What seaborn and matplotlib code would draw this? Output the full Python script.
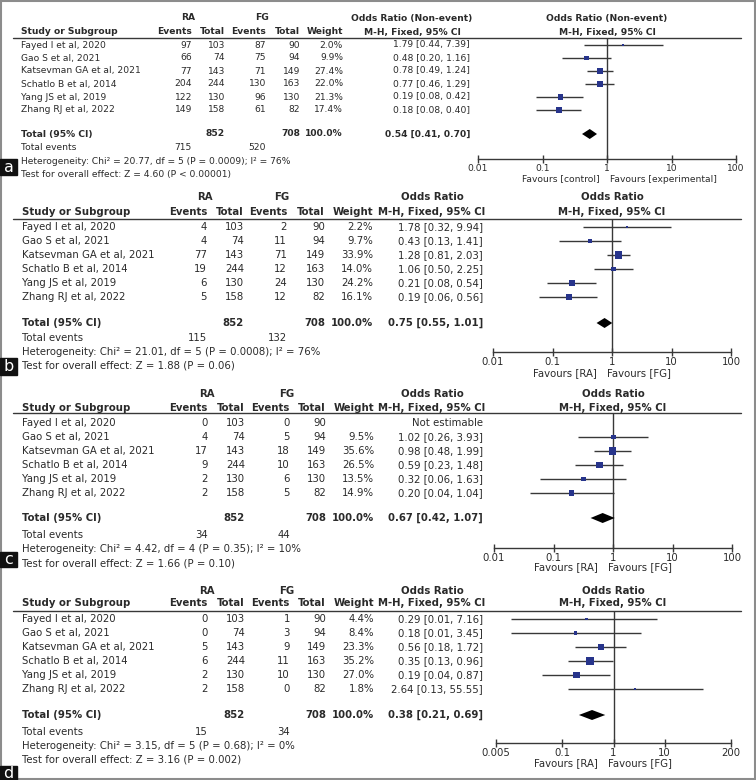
import numpy as np
import pandas as pd
import matplotlib
matplotlib.use('Agg')
import matplotlib.pyplot as plt
import matplotlib.ticker as mticker
from matplotlib.patches import Rectangle
import seaborn as sns

sns.set_theme(style='white')
plt.rcParams['font.family'] = ['DejaVu Sans']

W, H = 756, 780
TXT = '#2a2a2a'
LINE = '#383838'
SQ = '#27348b'

# ── data ───────────────────────────────────────────────────────────────────────
studies = ['Fayed I et al, 2020', 'Gao S et al, 2021', 'Katsevman GA et al, 2021',
           'Schatlo B et al, 2014', 'Yang JS et al, 2019', 'Zhang RJ et al, 2022']
ra_total = [103, 74, 143, 244, 130, 158]
fg_total = [90, 94, 149, 163, 130, 82]

a_ra_events = [97, 66, 77, 204, 122, 149]
a_fg_events = [87, 75, 71, 130, 96, 61]
a_weight = [2.0, 9.9, 27.4, 22.0, 21.3, 17.4]
a_or = [1.79, 0.48, 0.78, 0.77, 0.19, 0.18]
a_lo = [0.44, 0.20, 0.49, 0.46, 0.08, 0.08]
a_hi = [7.39, 1.16, 1.24, 1.29, 0.42, 0.40]
a_pooled = [0.54, 0.41, 0.70]
a_events_sum = [715, 520]
a_het = 'Heterogeneity: Chi² = 20.77, df = 5 (P = 0.0009); I² = 76%'
a_test = 'Test for overall effect: Z = 4.60 (P < 0.00001)'

b_ra_events = [4, 4, 77, 19, 6, 5]
b_fg_events = [2, 11, 71, 12, 24, 12]
b_weight = [2.2, 9.7, 33.9, 14.0, 24.2, 16.1]
b_or = [1.78, 0.43, 1.28, 1.06, 0.21, 0.19]
b_lo = [0.32, 0.13, 0.81, 0.50, 0.08, 0.06]
b_hi = [9.94, 1.41, 2.03, 2.25, 0.54, 0.56]
b_pooled = [0.75, 0.55, 1.01]
b_events_sum = [115, 132]
b_het = 'Heterogeneity: Chi² = 21.01, df = 5 (P = 0.0008); I² = 76%'
b_test = 'Test for overall effect: Z = 1.88 (P = 0.06)'

c_ra_events = [0, 4, 17, 9, 2, 2]
c_fg_events = [0, 5, 18, 10, 6, 5]
c_weight = [np.nan, 9.5, 35.6, 26.5, 13.5, 14.9]
c_or = [np.nan, 1.02, 0.98, 0.59, 0.32, 0.20]
c_lo = [np.nan, 0.26, 0.48, 0.23, 0.06, 0.04]
c_hi = [np.nan, 3.93, 1.99, 1.48, 1.63, 1.04]
c_pooled = [0.67, 0.42, 1.07]
c_events_sum = [34, 44]
c_het = 'Heterogeneity: Chi² = 4.42, df = 4 (P = 0.35); I² = 10%'
c_test = 'Test for overall effect: Z = 1.66 (P = 0.10)'

d_ra_events = [0, 0, 5, 6, 2, 2]
d_fg_events = [1, 3, 9, 11, 10, 0]
d_weight = [4.4, 8.4, 23.3, 35.2, 27.0, 1.8]
d_or = [0.29, 0.18, 0.56, 0.35, 0.19, 2.64]
d_lo = [0.01, 0.01, 0.18, 0.13, 0.04, 0.13]
d_hi = [7.16, 3.45, 1.72, 0.96, 0.87, 55.55]
d_pooled = [0.38, 0.21, 0.69]
d_events_sum = [15, 34]
d_het = 'Heterogeneity: Chi² = 3.15, df = 5 (P = 0.68); I² = 0%'
d_test = 'Test for overall effect: Z = 3.16 (P = 0.002)'

ticks_std = [0.01, 0.1, 1, 10, 100]
ticks_d = [0.005, 0.1, 1, 10, 200]
favours_a = ['Favours [control]', 'Favours [experimental]']
favours_bcd = ['Favours [RA]', 'Favours [FG]']
or_title_a = 'Odds Ratio (Non-event)'
or_title_bcd = 'Odds Ratio'

panels = [
    dict(tag='a', ra=a_ra_events, fg=a_fg_events, w=a_weight, est=a_or, lo=a_lo, hi=a_hi,
         pooled=a_pooled, ev=a_events_sum, het=a_het, test=a_test, ticks=ticks_std,
         fav=favours_a, title=or_title_a, fs=6.6,
         y_grp=18, y_hdr=32, y_line=38, y_row=45, step=13, y_tot=134, y_ev=148, y_het=161, y_test=174,
         cols=[21, 192, 225, 266, 300, 343, 470], grp_c=[188, 262], or_hc=412,
         x0=478, x1=736, axis_y=159, fav_y=179, fav_x=605, plot_hc=607, box=(159, 175)),
    dict(tag='b', ra=b_ra_events, fg=b_fg_events, w=b_weight, est=b_or, lo=b_lo, hi=b_hi,
         pooled=b_pooled, ev=b_events_sum, het=b_het, test=b_test, ticks=ticks_std,
         fav=favours_bcd, title=or_title_bcd, fs=7.3,
         y_grp=197, y_hdr=212, y_line=219, y_row=227, step=14, y_tot=323, y_ev=338, y_het=352, y_test=366,
         cols=[22, 207, 244, 287, 325, 373, 483], grp_c=[205, 282], or_hc=432,
         x0=493, x1=731, axis_y=352, fav_y=373, fav_x=602, plot_hc=612, box=(358, 375)),
    dict(tag='c', ra=c_ra_events, fg=c_fg_events, w=c_weight, est=c_or, lo=c_lo, hi=c_hi,
         pooled=c_pooled, ev=c_events_sum, het=c_het, test=c_test, ticks=ticks_std,
         fav=favours_bcd, title=or_title_bcd, fs=7.3,
         y_grp=394, y_hdr=408, y_line=413, y_row=423, step=14, y_tot=518, y_ev=535, y_het=549, y_test=563,
         cols=[22, 208, 245, 290, 326, 374, 483], grp_c=[207, 287], or_hc=432,
         x0=494, x1=732, axis_y=548, fav_y=567, fav_x=603, plot_hc=613, box=(552, 567)),
    dict(tag='d', ra=d_ra_events, fg=d_fg_events, w=d_weight, est=d_or, lo=d_lo, hi=d_hi,
         pooled=d_pooled, ev=d_events_sum, het=d_het, test=d_test, ticks=ticks_d,
         fav=favours_bcd, title=or_title_bcd, fs=7.3,
         y_grp=591, y_hdr=603, y_line=611, y_row=619, step=14, y_tot=715, y_ev=732, y_het=746, y_test=759,
         cols=[22, 208, 245, 290, 326, 374, 483], grp_c=[207, 287], or_hc=432,
         x0=496, x1=731, axis_y=743, fav_y=763, fav_x=603, plot_hc=613, box=(766, 780)),
]

fig = plt.figure(figsize=(W / 100, H / 100), dpi=100)
bg = fig.add_axes([0, 0, 1, 1])
bg.set_xlim(0, W)
bg.set_ylim(H, 0)
bg.axis('off')
bg.add_patch(Rectangle((1, 1), W - 2, H - 2, fill=False, edgecolor='#8c8c8c', lw=1.5))


def txt(x, y, s, fs, ha='right', bold=False, color=TXT):
    bg.text(x, y, s, ha=ha, va='center', fontsize=fs, color=color,
            fontweight='bold' if bold else 'normal')


for p in panels:
    fs = p['fs']
    cs, rae, rat, fge, fgt, wx, orx = p['cols']

    # header
    txt(p['grp_c'][0], p['y_grp'], 'RA', fs, ha='center', bold=True)
    txt(p['grp_c'][1], p['y_grp'], 'FG', fs, ha='center', bold=True)
    txt(p['or_hc'], p['y_grp'], p['title'], fs, ha='center', bold=True)
    txt(p['plot_hc'], p['y_grp'], p['title'], fs, ha='center', bold=True)
    txt(cs, p['y_hdr'], 'Study or Subgroup', fs, ha='left', bold=True)
    for x, s in zip([rae, rat, fge, fgt, wx], ['Events', 'Total', 'Events', 'Total', 'Weight']):
        txt(x, p['y_hdr'], s, fs, bold=True)
    txt(p['or_hc'], p['y_hdr'], 'M-H, Fixed, 95% CI', fs, ha='center', bold=True)
    txt(p['plot_hc'], p['y_hdr'], 'M-H, Fixed, 95% CI', fs, ha='center', bold=True)
    bg.plot([13, 741], [p['y_line'], p['y_line']], color=LINE, lw=1.0)

    # study rows
    rows_y = [p['y_row'] + i * p['step'] for i in range(len(studies))]
    for i, y in enumerate(rows_y):
        txt(cs, y, studies[i], fs, ha='left')
        txt(rae, y, str(p['ra'][i]), fs)
        txt(rat, y, str(ra_total[i]), fs)
        txt(fge, y, str(p['fg'][i]), fs)
        txt(fgt, y, str(fg_total[i]), fs)
        if np.isnan(p['est'][i]):
            txt(orx, y, 'Not estimable', fs)
        else:
            txt(wx, y, f"{p['w'][i]:.1f}%", fs)
            txt(orx, y, f"{p['est'][i]:.2f} [{p['lo'][i]:.2f}, {p['hi'][i]:.2f}]", fs)

    # totals
    txt(cs, p['y_tot'], 'Total (95% CI)', fs, ha='left', bold=True)
    txt(rat, p['y_tot'], str(sum(ra_total)), fs, bold=True)
    txt(fgt, p['y_tot'], str(sum(fg_total)), fs, bold=True)
    txt(wx, p['y_tot'], '100.0%', fs, bold=True)
    pe, pl, ph = p['pooled']
    txt(orx, p['y_tot'], f'{pe:.2f} [{pl:.2f}, {ph:.2f}]', fs, bold=True)
    txt(cs, p['y_ev'], 'Total events', fs, ha='left')
    txt(rae, p['y_ev'], str(p['ev'][0]), fs)
    txt(fge, p['y_ev'], str(p['ev'][1]), fs)
    txt(cs, p['y_het'], p['het'], fs, ha='left')
    txt(cs, p['y_test'], p['test'], fs, ha='left')

    # panel tag
    b0, b1 = p['box']
    bg.add_patch(Rectangle((0, b0), 17, b1 - b0, color='#111111'))
    txt(8.5, (b0 + b1) / 2, p['tag'], 11.5, ha='center', color='white')

    # favours
    txt(p['fav_x'] - 5, p['fav_y'], p['fav'][0], fs)
    txt(p['fav_x'] + 5, p['fav_y'], p['fav'][1], fs, ha='left')

    # forest plot
    ax = fig.add_axes([p['x0'] / W, 1 - p['axis_y'] / H,
                       (p['x1'] - p['x0']) / W, (p['axis_y'] - p['y_line']) / H])
    ax.set_facecolor('none')
    ax.set_xscale('log')
    ax.set_xlim(p['ticks'][0], p['ticks'][-1])
    ax.set_ylim(p['axis_y'], p['y_line'])
    for s in ['top', 'left', 'right']:
        ax.spines[s].set_visible(False)
    ax.spines['bottom'].set_color(LINE)
    ax.spines['bottom'].set_linewidth(1.0)
    ax.axvline(1, color=LINE, lw=1.0)

    df = pd.DataFrame({'y': rows_y, 'est': p['est'], 'lo': p['lo'], 'hi': p['hi'], 'w': p['w']}).dropna()
    ax.hlines(df['y'], df['lo'], df['hi'], color=LINE, lw=1.0)
    sns.scatterplot(data=df, x='est', y='y', size='w', sizes=(1, 30), size_norm=(0, 36),
                    marker='s', color=SQ, linewidth=0, legend=False, ax=ax, zorder=3)
    yt = p['y_tot']
    ax.fill([pl, pe, ph, pe], [yt, yt - 5, yt, yt + 5], color='black', lw=0, zorder=3)

    ax.xaxis.set_major_locator(mticker.FixedLocator(p['ticks']))
    ax.xaxis.set_minor_locator(mticker.NullLocator())
    ax.set_xticklabels([f'{t:g}' for t in p['ticks']])
    ax.tick_params(axis='x', direction='inout', length=6, width=1.0, color=LINE,
                   labelsize=fs, labelcolor=TXT, pad=0.5, bottom=True)
    ax.set_yticks([])
    ax.set_xlabel('')
    ax.set_ylabel('')

fig.savefig('out.png', dpi=100)
